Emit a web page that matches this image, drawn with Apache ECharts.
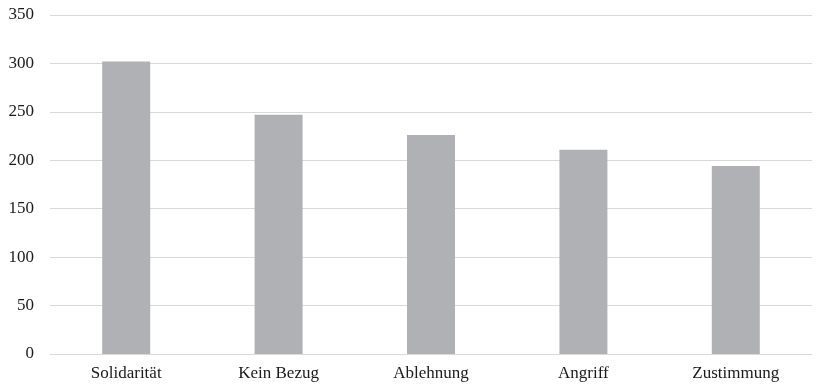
<!DOCTYPE html>
<html><head><meta charset="utf-8">
<script src="https://cdn.jsdelivr.net/npm/echarts@6/dist/echarts.min.js"></script>
<style>html,body{margin:0;padding:0;background:#fff}#c{width:820px;height:384px}</style>
</head><body><div id="c"></div>
<script>
const categories = ["Solidarität", "Kein Bezug", "Ablehnung", "Angriff", "Zustimmung"];
const values = [302, 247, 226, 211, 194];
const yTicks = [0, 50, 100, 150, 200, 250, 300, 350];

const chart = echarts.init(document.getElementById('c'));
chart.setOption({
  animation: false,
  grid: { left: 50, right: 8, top: 15, bottom: 30 },
  xAxis: {
    type: 'category', data: categories,
    axisLine: { lineStyle: { color: '#d9d9d9', width: 1 } },
    axisTick: { show: false },
    axisLabel: { color: '#1a1a1a', fontFamily: 'Liberation Serif', fontSize: 17, margin: 11 }
  },
  yAxis: {
    type: 'value', min: yTicks[0], max: yTicks[yTicks.length-1], interval: 50,
    axisLine: { show: false }, axisTick: { show: false },
    splitLine: { lineStyle: { color: '#d9d9d9', width: 1 } },
    axisLabel: { color: '#1a1a1a', fontFamily: 'Liberation Serif', fontSize: 17, margin: 16 }
  },
  series: [{
    type: 'bar', data: values, barWidth: 48,
    itemStyle: { color: '#b0b1b4' }
  }]
});
</script></body></html>
